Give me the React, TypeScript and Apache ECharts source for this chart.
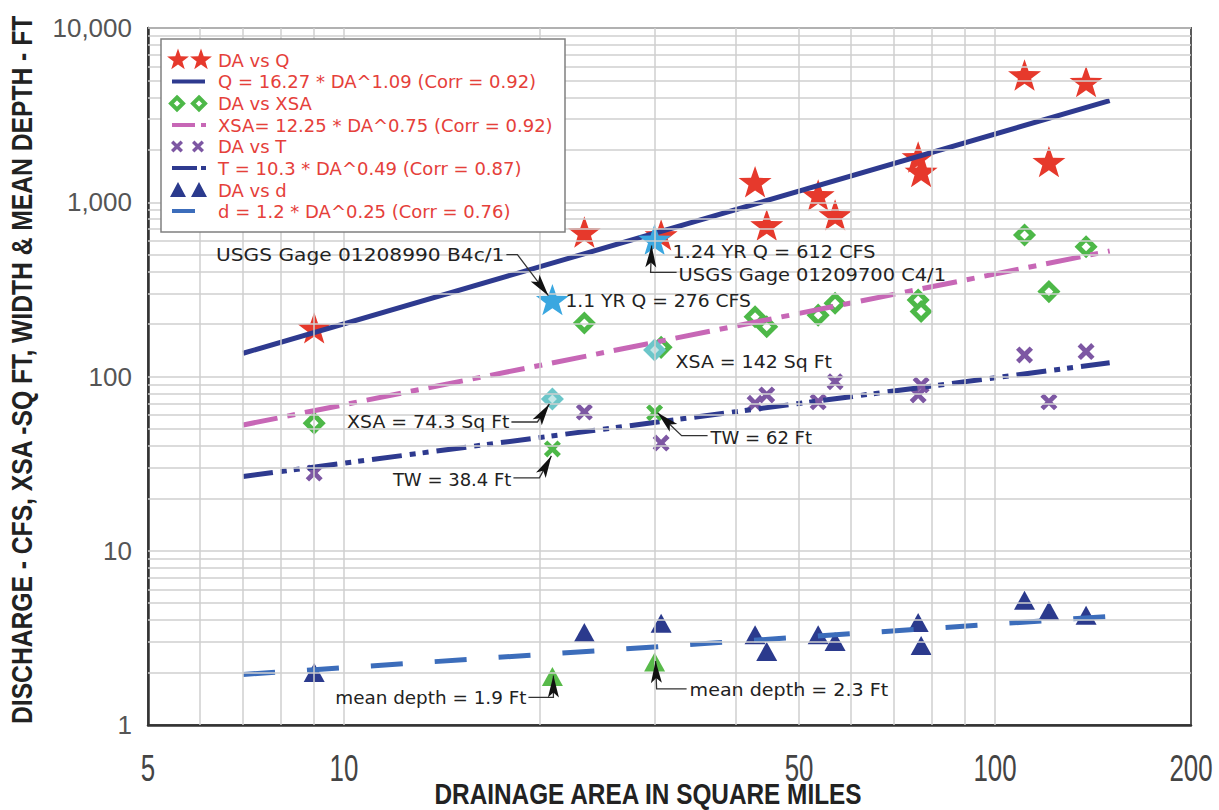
import React, { useEffect, useRef } from "react";
import * as echarts from "echarts";

// ---- data ----
const daSites = [9.0, 23.4, 30.7, 42.8, 44.6, 53.5, 56.8, 76.2, 77.0, 111, 121, 138];
const qValues = [190, 675, 650, 1310, 740, 1100, 846, 1820, 1500, 5370, 1710, 4920];
const xsaValues = [54, 203, 147, 220, 193, 225, 263, 275, 236, 649, 307, 556];
const twValues = [27.9, 62.5, 41.5, 70.2, 78.4, 71.6, 93.3, 78.4, 89.3, 133, 71.6, 139];
const depthValues = [2.0, 3.4, 3.84, 3.3, 2.64, 3.3, 3.01, 3.87, 2.86, 5.2, 4.52, 4.27];

const gageDA = [20.9, 30];
const gageQ = [276, 612];
const gageXSA = [74.3, 142];
const gageTW = [38.4, 62];
const gageDepth = [1.9, 2.3];

const fitDA = [7, 150];
const qFit = [136, 3830];
const xsaFit = [52.7, 525];
const twFit = [26.7, 120];
const depthFit = [1.95, 4.2];

const xTickLabels = [5, 10, 50, 100, 200];
const xGridValues = [6, 7, 8, 9, 10, 20, 30, 40, 50, 60, 70, 80, 90, 100];
const yDecades = [1, 10, 100, 1000];
const yMultipliers = [2, 3, 4, 5, 6, 7, 8, 9, 10];

const legendLabels = [
  "DA vs Q",
  "Q = 16.27 * DA^1.09 (Corr = 0.92)",
  "DA vs XSA",
  "XSA= 12.25 * DA^0.75 (Corr = 0.92)",
  "DA vs T",
  "T = 10.3 * DA^0.49 (Corr = 0.87)",
  "DA vs d",
  "d = 1.2 * DA^0.25 (Corr = 0.76)",
];

const C = {
  red: "#e6392c",
  navy: "#2e3a8f",
  green: "#4db848",
  pink: "#c767b6",
  purple: "#7d57a3",
  tri: "#2b3a8d",
  dline: "#3c6dbb",
  lblue: "#3aa7e0",
  cyan: "#6cc6c9",
  legendText: "#e5403a",
};

const zip = (a: number[], b: number[]) => a.map((x, i) => [x, b[i]]);

function starPts(cx: number, cy: number, R: number, r = R * 0.4) {
  const pts: number[][] = [];
  for (let i = 0; i < 10; i++) {
    const ang = -Math.PI / 2 + (i * Math.PI) / 5;
    const rad = i % 2 === 0 ? R : r;
    pts.push([cx + rad * Math.cos(ang), cy + rad * Math.sin(ang)]);
  }
  return pts;
}
const crossTemplate = [
  [0, 2], [2, 0], [5, 3], [8, 0], [10, 2], [7, 5], [10, 8], [8, 10], [5, 7], [2, 10], [0, 8], [3, 5],
];
function crossPts(cx: number, cy: number, s: number) {
  return crossTemplate.map(([x, y]) => [cx + ((x - 5) * s) / 10, cy + ((y - 5) * s) / 10]);
}
const starPath =
  "path://M" + starPts(0, 0, 10).map((p) => p[0].toFixed(2) + "," + p[1].toFixed(2)).join("L") + "Z";
const crossPath = "path://M" + crossTemplate.map((p) => p.join(",")).join("L") + "Z";

// annotations: anchor index + offsets in px relative to the anchor
const annotations = [
  { set: "q", i: 0, text: "USGS Gage 01208990 B4c/1", align: "right", sx: 1.12, tx: -48, ty: -45, path: [[-46, -45], [-35, -45], [-4, -4]] },
  { set: "q", i: 0, text: "1.1 YR Q = 276 CFS", align: "left", sx: 1.04, tx: 13, ty: 1, path: [] },
  { set: "q", i: 1, text: "1.24 YR Q = 612 CFS", align: "left", sx: 1.07, tx: 18, ty: 12, path: [] },
  { set: "q", i: 1, text: "USGS Gage 01209700 C4/1", align: "left", sx: 1.08, tx: 24, ty: 35, path: [[22, 33], [-4, 33], [-3, 6]] },
  { set: "xsa", i: 1, text: "XSA = 142 Sq Ft", align: "left", sx: 1.05, tx: 21, ty: 12, path: [] },
  { set: "xsa", i: 0, text: "XSA = 74.3 Sq Ft", align: "right", sx: 1.05, tx: -43, ty: 23, path: [[-41, 23], [-15, 23], [-3, 5]] },
  { set: "tw", i: 1, text: "TW = 62 Ft", align: "left", sx: 1.0, tx: 56, ty: 25, path: [[53, 23], [27, 23], [3, 0]] },
  { set: "tw", i: 0, text: "TW = 38.4 Ft", align: "right", sx: 1.0, tx: -41, ty: 31, path: [[-39, 29], [-13, 29], [-1, 7]] },
  { set: "d", i: 0, text: "mean depth = 1.9 Ft", align: "right", sx: 1.02, tx: -26, ty: 21, path: [[-24, 21], [1, 21], [1, -1]] },
  { set: "d", i: 1, text: "mean depth = 2.3 Ft", align: "left", sx: 1.06, tx: 35, ty: 28, path: [[32, 27], [2, 27], [1, -1]] },
];

export default function App() {
  const ref = useRef<HTMLDivElement>(null);
  useEffect(() => {
    document.body.style.margin = "0";
    const chart = echarts.init(ref.current!, null, { renderer: "svg" });

    const yGridValues: number[] = [];
    yDecades.forEach((d) => yMultipliers.forEach((m) => yGridValues.push(d * m)));

    const scatter = (name: string, x: number[], y: number[], symbol: string, size: any, itemStyle: any, z: number, extra: any = {}) => ({
      name,
      type: "scatter",
      data: zip(x, y),
      symbol,
      symbolSize: size,
      itemStyle: { opacity: 1, ...itemStyle },
      silent: true,
      z,
      ...extra,
    });

    const option: any = {
      animation: false,
      grid: { left: 148, right: 28, top: 28, bottom: 85, show: true, borderColor: "#5a5a5a", borderWidth: 2 },
      xAxis: {
        type: "log",
        logBase: 10,
        min: 5,
        max: 200,
        axisLabel: { show: false },
        axisTick: { show: false },
        splitLine: { show: false },
        axisLine: { show: true, lineStyle: { color: "#333", width: 2.5 } },
      },
      yAxis: {
        type: "log",
        logBase: 10,
        min: 1,
        max: 10000,
        axisTick: { show: false },
        splitLine: { show: false },
        axisLine: { show: true, lineStyle: { color: "#333", width: 2.5 } },
        axisLabel: {
          margin: 16,
          color: "#555",
          fontSize: 26,
          fontFamily: "Liberation Sans",
          formatter: (v: number) => Math.round(v).toLocaleString("en-US"),
        },
      },
      series: [
        {
          type: "scatter",
          data: [],
          silent: true,
          z: 1,
          markLine: {
            silent: true,
            symbol: ["none", "none"],
            label: { show: false },
            animation: false,
            lineStyle: { color: "#cfcfcf", width: 1.5, type: "solid" },
            data: [
              ...xGridValues.map((v) => ({ xAxis: v })),
              ...yGridValues.map((v) => ({ yAxis: v })),
            ],
          },
        },
        scatter("DA vs Q", daSites, qValues, starPath, 33, { color: C.red }, 2, { symbolKeepAspect: true }),
        scatter("DA vs XSA", daSites, xsaValues, "diamond", 16, { color: "#fff", borderColor: C.green, borderWidth: 5 }, 2),
        scatter("DA vs T", daSites, twValues, crossPath, 17, { color: C.purple }, 2),
        scatter("DA vs d", daSites, depthValues, "triangle", [21, 19], { color: C.tri }, 2),
        {
          name: "Q fit", type: "line", data: zip(fitDA, qFit), symbol: "none", silent: true, z: 3,
          lineStyle: { color: C.navy, width: 5, cap: "butt" },
        },
        {
          name: "XSA fit", type: "line", data: zip(fitDA, xsaFit), symbol: "none", silent: true, z: 3,
          lineStyle: { color: C.pink, width: 5, type: [35, 10, 8, 10], cap: "butt" },
        },
        {
          name: "T fit", type: "line", data: zip(fitDA, twFit), symbol: "none", silent: true, z: 3,
          lineStyle: { color: C.navy, width: 5, type: [30, 8, 6, 7, 6, 8], cap: "butt" },
        },
        {
          name: "d fit", type: "line", data: zip(fitDA, depthFit), symbol: "none", silent: true, z: 3,
          lineStyle: { color: C.dline, width: 5, type: [32, 32], cap: "butt" },
        },
        scatter("Gage Q", gageDA, gageQ, starPath, 33, { color: C.lblue }, 4, { symbolKeepAspect: true }),
        scatter("Gage XSA", gageDA, gageXSA, "diamond", 16, { color: "#c3e7e7", borderColor: C.cyan, borderWidth: 5 }, 4),
        scatter("Gage TW", gageDA, gageTW, crossPath, 17, { color: C.green }, 4),
        scatter("Gage d", gageDA, gageDepth, "triangle", [21, 19], { color: "#58ba4a" }, 4),
      ],
    };
    chart.setOption(option);

    const toPx = (x: number, y: number) =>
      chart.convertToPixel({ xAxisIndex: 0, yAxisIndex: 0 }, [x, y]) as number[];

    const els: any[] = [];
    const text = (t: string, x: number, y: number, font: string, fill: string, align: string, extra: any = {}) =>
      els.push({
        type: "text",
        x,
        y,
        z: 100,
        ...extra,
        style: { text: t, font, fill, textAlign: align, align, textVerticalAlign: "middle", verticalAlign: "middle" },
      });

    // x tick labels
    xTickLabels.forEach((v) => {
      const [x] = toPx(v, 1);
      text(String(v), x, 768, '37px "Liberation Sans"', "#444", "center", { scaleX: 0.7 });
    });
    // axis titles
    text("DRAINAGE AREA IN SQUARE MILES", 648, 794, 'bold 29px "Liberation Sans"', "#222", "center", { scaleX: 0.84 });
    text("DISCHARGE - CFS, XSA -SQ FT, WIDTH & MEAN DEPTH - FT", 22, 724, 'bold 29px "Liberation Sans"', "#222", "left", {
      rotation: Math.PI / 2,
      scaleX: 0.85,
    });

    // legend box
    els.push({
      type: "rect",
      z: 50,
      shape: { x: 161, y: 39, width: 404, height: 193 },
      style: { fill: "#fff", stroke: "#808080", lineWidth: 1.5 },
    });
    const rowY = [60, 81.5, 103.5, 125, 146.5, 168, 190, 211];
    legendLabels.forEach((t, i) => text(t, 218, rowY[i], '18px "DejaVu Sans"', C.legendText, "left", { z: 51 }));
    [178, 201].forEach((cx) =>
      els.push({ type: "polygon", z: 51, shape: { points: starPts(cx, rowY[0], 11.5) }, style: { fill: C.red } })
    );
    [177, 199].forEach((cx) =>
      els.push({
        type: "polygon",
        z: 51,
        shape: { points: [[cx, rowY[2] - 6], [cx + 6, rowY[2]], [cx, rowY[2] + 6], [cx - 6, rowY[2]]] },
        style: { fill: "#fff", stroke: C.green, lineWidth: 4 },
      })
    );
    [177, 198].forEach((cx) =>
      els.push({ type: "polygon", z: 51, shape: { points: crossPts(cx, rowY[4], 12) }, style: { fill: C.purple } })
    );
    [178, 199].forEach((cx) =>
      els.push({
        type: "polygon",
        z: 51,
        shape: { points: [[cx, rowY[6] - 8], [cx + 8, rowY[6] + 7], [cx - 8, rowY[6] + 7]] },
        style: { fill: C.tri },
      })
    );
    const legLine = (y: number, color: string, dash: number[] | null, x2: number) =>
      els.push({
        type: "line",
        z: 51,
        shape: { x1: 172, y1: y, x2, y2: y },
        style: { stroke: color, lineWidth: 4, lineDash: dash || undefined },
      });
    legLine(rowY[1], C.navy, null, 205);
    legLine(rowY[3], C.pink, [23, 6, 5, 100], 206);
    legLine(rowY[5], C.navy, [25, 4, 5, 100], 206);
    legLine(rowY[7], C.dline, null, 195);

    // annotations
    const sets: any = { q: gageQ, xsa: gageXSA, tw: gageTW, d: gageDepth };
    annotations.forEach((a) => {
      const [ax, ay] = toPx(gageDA[a.i], sets[a.set][a.i]);
      text(a.text, ax + a.tx, ay + a.ty, '18px "DejaVu Sans"', "#222", a.align, { scaleX: a.sx });
      if (a.path.length > 1) {
        const pts = a.path.map(([dx, dy]) => [ax + dx, ay + dy]);
        els.push({
          type: "polyline",
          z: 100,
          shape: { points: pts },
          style: { stroke: "#333", lineWidth: 1.3, fill: null },
        });
        const tip = pts[pts.length - 1];
        const prev = pts[pts.length - 2];
        const dx = tip[0] - prev[0];
        const dy = tip[1] - prev[1];
        const len = Math.hypot(dx, dy);
        const ux = dx / len;
        const uy = dy / len;
        const nx = -uy;
        const ny = ux;
        const L = 22;
        const W = 5.5;
        els.push({
          type: "polygon",
          z: 101,
          shape: {
            points: [
              tip,
              [tip[0] - L * ux + W * nx, tip[1] - L * uy + W * ny],
              [tip[0] - (L - 5) * ux, tip[1] - (L - 5) * uy],
              [tip[0] - L * ux - W * nx, tip[1] - L * uy - W * ny],
            ],
          },
          style: { fill: "#111" },
        });
      }
    });

    chart.setOption({ graphic: { elements: els } });
    return () => chart.dispose();
  }, []);
  return <div ref={ref} style={{ position: "absolute", left: 0, top: 0, width: 1219, height: 810 }} />;
}
